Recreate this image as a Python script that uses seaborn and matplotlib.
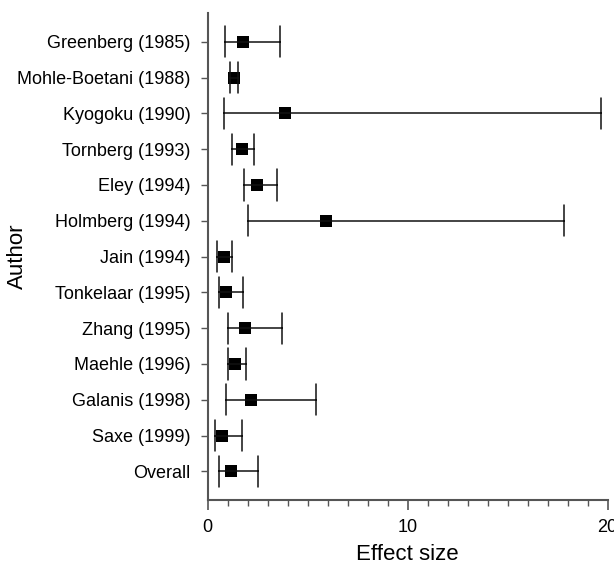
import matplotlib
matplotlib.use("Agg")
import matplotlib.pyplot as plt
import seaborn as sns
import pandas as pd
import numpy as np
from matplotlib.ticker import MultipleLocator

authors = ["Greenberg (1985)", "Mohle-Boetani (1988)", "Kyogoku (1990)", "Tornberg (1993)",
           "Eley (1994)", "Holmberg (1994)", "Jain (1994)", "Tonkelaar (1995)",
           "Zhang (1995)", "Maehle (1996)", "Galanis (1998)", "Saxe (1999)", "Overall"]
effect = [1.78, 1.33, 3.88, 1.73, 2.48, 5.93, 0.83, 0.93, 1.88, 1.38, 2.18, 0.73, 1.18]
lower = [0.87, 1.12, 0.80, 1.20, 1.80, 2.00, 0.47, 0.55, 1.02, 1.00, 0.93, 0.35, 0.55]
upper = [3.63, 1.53, 19.67, 2.32, 3.45, 17.80, 1.20, 1.78, 3.70, 1.92, 5.42, 1.72, 2.52]

rows = []
for a, lo, e, hi in zip(authors, lower, effect, upper):
    for v in (lo, e, hi):
        rows.append({"Author": a, "Effect size": v})
df = pd.DataFrame(rows)

sns.set_style("ticks")
plt.rcParams["font.family"] = ["Liberation Sans", "DejaVu Sans"]

fig = plt.figure(figsize=(6.14, 5.68), dpi=100)
ax = fig.add_axes([0.338, 0.1197, 0.6517, 0.8573])

sns.pointplot(data=df, x="Effect size", y="Author", order=authors, orient="h",
              estimator="median", errorbar=lambda v: (np.min(v), np.max(v)),
              linestyle="none", marker="s", markersize=8, markeredgewidth=0,
              color="black", capsize=0.87,
              err_kws={"linewidth": 1.1, "color": "#111111"}, ax=ax)

ax.set_xlim(0, 20)
ax.set_ylim(12.8, -0.8)
ax.xaxis.set_major_locator(MultipleLocator(10))
ax.xaxis.set_minor_locator(MultipleLocator(1))
for s in ["top", "right"]:
    ax.spines[s].set_visible(False)
for s in ["left", "bottom"]:
    ax.spines[s].set_color("#555555")
    ax.spines[s].set_linewidth(1.5)

ax.tick_params(axis="x", which="major", length=7, width=1.2, color="#555555",
               labelsize=13, pad=7, labelcolor="black")
ax.tick_params(axis="x", which="minor", length=4, width=1, color="#555555")
ax.tick_params(axis="y", which="major", length=5, width=1, color="#555555",
               labelsize=13, pad=7, labelcolor="black")

ax.set_xlabel("Effect size", fontsize=16, color="black")
ax.set_ylabel("Author", fontsize=16, color="black")
ax.xaxis.set_label_coords(0.5, -0.09)
ax.yaxis.set_label_coords(-0.45, 0.5)

fig.savefig("out.png", dpi=100)
